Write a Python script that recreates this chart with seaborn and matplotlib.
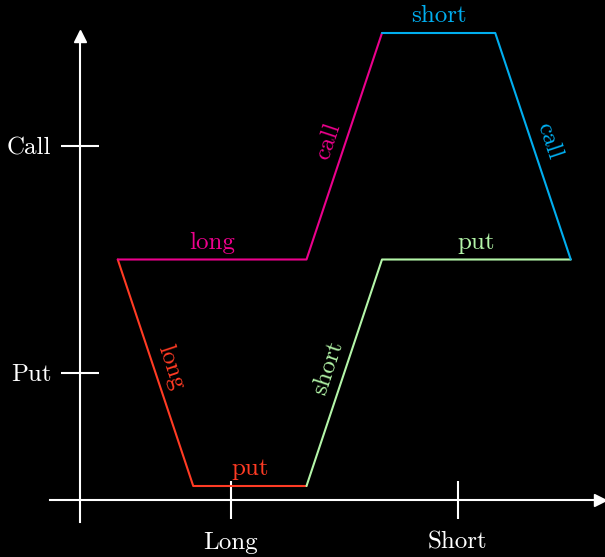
import numpy as np
import pandas as pd
import matplotlib
matplotlib.use("Agg")
import matplotlib.pyplot as plt
import seaborn as sns

# ---- data ----
series_names = ["red", "green", "magenta", "blue"]
x_red = [0.5, 1.5, 3.0]
y_red = [3.0, 0.0, 0.0]
x_green = [3.0, 4.0, 6.5]
y_green = [0.0, 3.0, 3.0]
x_magenta = [0.5, 3.0, 4.0]
y_magenta = [3.0, 3.0, 6.0]
x_blue = [4.0, 5.5, 6.5]
y_blue = [6.0, 6.0, 3.0]
seg_labels_red = ["long", "put"]
seg_labels_green = ["short", "put"]
seg_labels_magenta = ["long", "call"]
seg_labels_blue = ["short", "call"]
x_tick_pos = [2, 5]
x_tick_labels = ["Long", "Short"]
y_tick_pos = [1.5, 4.5]
y_tick_labels = ["Put", "Call"]

colors = {"red": "#ff3b24", "green": "#b3f5a8", "magenta": "#ec008c", "blue": "#00aeef"}

sns.set_theme(style="dark", rc={"axes.facecolor": "black", "figure.facecolor": "black"})
plt.rcParams["font.family"] = ["cmr10", "DejaVu Serif"]
plt.rcParams["axes.unicode_minus"] = False
plt.rcParams["mathtext.fontset"] = "cm"

fig = plt.figure(figsize=(6.05, 5.57), dpi=100)
ax = fig.add_axes([0, 0, 1, 1])
ax.set_facecolor("black")

unit = 75.5
ax.set_xlim(-80 / unit, 525 / unit)
ax.set_ylim(-71 / unit, 486 / unit)

FS = 18

series = {
    "red": (x_red, y_red, seg_labels_red),
    "green": (x_green, y_green, seg_labels_green),
    "magenta": (x_magenta, y_magenta, seg_labels_magenta),
    "blue": (x_blue, y_blue, seg_labels_blue),
}

for name in series_names:
    xs, ys, labs = series[name]
    df = pd.DataFrame({"x": xs, "y": ys})
    sns.lineplot(data=df, x="x", y="y", sort=False, estimator=None, color=colors[name],
                 lw=1.5, ax=ax)
    for i, lab in enumerate(labs):
        x0, x1 = xs[i], xs[i + 1]
        y0, y1 = ys[i], ys[i + 1]
        ang = np.degrees(np.arctan2(y1 - y0, x1 - x0))
        if ang > 90:
            ang -= 180
        if ang < -90:
            ang += 180
        th = np.radians(ang)
        off = 4
        ax.annotate(lab, xy=((x0 + x1) / 2, (y0 + y1) / 2),
                    xytext=(-np.sin(th) * off, np.cos(th) * off), textcoords="offset points",
                    rotation=ang, rotation_mode="anchor", ha="center", va="bottom",
                    color=colors[name], fontsize=FS)

# axes
axis_y = -0.19
for s in ["top", "right"]:
    ax.spines[s].set_visible(False)
ax.spines["left"].set_position(("data", 0))
ax.spines["bottom"].set_position(("data", axis_y))
ax.spines["left"].set_bounds(-0.48, 6.0)
ax.spines["bottom"].set_bounds(-0.4, 525 / unit)
for s in ["left", "bottom"]:
    ax.spines[s].set_color("white")
    ax.spines[s].set_linewidth(1.5)
    ax.spines[s].set_visible(True)

ax.plot([0], [6.0 - 0.04], marker="^", color="white", markersize=8, clip_on=False, zorder=5)
ax.plot([525 / unit - 0.06], [axis_y], marker=">", color="white", markersize=8, clip_on=False, zorder=5)

ax.set_xticks(x_tick_pos)
ax.set_xticklabels(x_tick_labels)
ax.set_yticks(y_tick_pos)
ax.set_yticklabels(y_tick_labels)
ax.tick_params(axis="both", direction="inout", length=27, width=1.5, colors="white",
               labelsize=FS, bottom=True, left=True)
ax.tick_params(axis="x", pad=9)
ax.tick_params(axis="y", pad=7)
ax.set_xlabel("")
ax.set_ylabel("")
ax.grid(False)

fig.savefig("out.png", dpi=100, facecolor="black")
